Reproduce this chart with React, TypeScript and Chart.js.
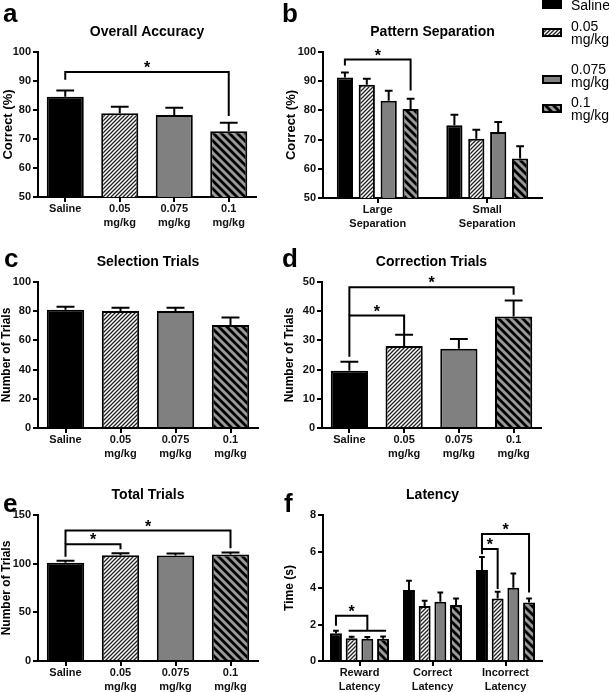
import React, { useEffect, useRef } from 'react';
import { Chart, registerables } from 'chart.js';

Chart.register(...registerables);

const FONT = "'Liberation Sans', Arial, Helvetica, sans-serif";

// ---------------- data ----------------
const doseNames = ['Saline', '0.05 mg/kg', '0.075 mg/kg', '0.1 mg/kg'];
const doseTicks: any[] = ['Saline', ['0.05', 'mg/kg'], ['0.075', 'mg/kg'], ['0.1', 'mg/kg']];
const separationTicks: any[] = [['Large', 'Separation'], ['Small', 'Separation']];
const latencyTicks: any[] = [['Reward', 'Latency'], ['Correct', 'Latency'], ['Incorrect', 'Latency']];

const accuracyMean = [84.6, 78.9, 78.3, 72.7];
const accuracySem = [2.1, 2.2, 2.5, 2.9];

const sepSaline = [91.3, 74.9];
const sepSalineSem = [1.7, 3.6];
const sep005 = [88.8, 70.3];
const sep005Sem = [2.0, 3.1];
const sep0075 = [83.3, 72.6];
const sep0075Sem = [3.4, 3.4];
const sep01 = [80.5, 63.5];
const sep01Sem = [3.5, 4.2];

const selectionMean = [81.0, 80.2, 80.2, 70.6];
const selectionSem = [2.0, 2.1, 2.1, 5.0];

const correctionMean = [19.6, 28.1, 27.1, 38.2];
const correctionSem = [3.1, 3.8, 3.4, 5.5];

const totalMean = [100.9, 108.7, 108.5, 109.5];
const totalSem = [2.1, 1.9, 1.9, 2.1];

const latSaline = [1.52, 3.89, 4.99];
const latSalineSem = [0.14, 0.51, 0.71];
const lat005 = [1.24, 3.01, 3.43];
const lat005Sem = [0.09, 0.29, 0.37];
const lat0075 = [1.22, 3.25, 4.02];
const lat0075Sem = [0.1, 0.51, 0.78];
const lat01 = [1.22, 3.07, 3.2];
const lat01Sem = [0.12, 0.36, 0.23];

// axis ranges: [min, max, step]
const accuracyAxis = [50, 100, 10];
const selectionAxis = [0, 100, 20];
const correctionAxis = [0, 50, 10];
const totalAxis = [0, 150, 50];
const latencyAxis = [0, 8, 2];

// significance brackets: a/b = [datasetIndex, dataIndex]
const accuracyBrackets = [{ a: [0, 0], b: [0, 3], y: 93.1, dropA: 90.4, dropB: 77.9 }];
const separationBrackets = [{ a: [0, 0], b: [3, 0], y: 97.4, dropA: 95.4, dropB: 86.8 }];
const correctionBrackets = [
  { a: [0, 0], b: [0, 3], y: 48.2, dropA: 38.5, dropB: 45.6 },
  { a: [0, 0], b: [0, 1], y: 38.5, dropA: 24.4, dropB: 31.9 },
];
const totalBrackets = [
  { a: [0, 0], b: [0, 3], y: 134, dropA: 120, dropB: 115.8 },
  { a: [0, 0], b: [0, 1], y: 120, dropA: 107.1, dropB: 114.7 },
];
const latencyBrackets = [
  { a: [0, 0], b: [2, 0], y: 2.48, dropA: 1.93, dropB: 1.66, under: { from: [1, 0], to: [3, 0] } },
  { a: [0, 2], b: [3, 2], y: 6.96, dropA: 6.14, dropB: 3.76 },
  { a: [0, 2], b: [1, 2], y: 6.14, dropA: 5.85, dropB: 3.95 },
];

// ---------------- fills ----------------
function hatch(size: number, bg: string, fg: string, lw: number, dir: string) {
  const c = document.createElement('canvas');
  c.width = size;
  c.height = size;
  const x = c.getContext('2d') as CanvasRenderingContext2D;
  x.fillStyle = bg;
  x.fillRect(0, 0, size, size);
  x.strokeStyle = fg;
  x.lineWidth = lw;
  x.beginPath();
  for (const o of [-size, 0, size]) {
    if (dir === '/') {
      x.moveTo(o - 1, size + 1);
      x.lineTo(o + size + 1, -1);
    } else {
      x.moveTo(o - 1, -1);
      x.lineTo(o + size + 1, size + 1);
    }
  }
  x.stroke();
  return x.createPattern(c, 'repeat') as CanvasPattern;
}

let FILLS: any[] | null = null;
function fills() {
  if (!FILLS) {
    FILLS = ['#000000', hatch(4, '#ffffff', '#222222', 1.3, '/'), '#808080', hatch(8, '#999999', '#000000', 2.8, '\\')];
  }
  return FILLS;
}

// ---------------- panels ----------------
type PanelCfg = {
  box: number[]; // left, top, w, h (page)
  area: number[]; // L, T, R, B (page)
  labels: any[];
  series: { name: string; data: number[]; sem: number[]; fillIdx: number | null }[];
  axis: number[];
  cat: number;
  bar: number;
  title: string;
  letter: string;
  letterPos: number[];
  yTitle: string;
  yTitleX: number;
  yTitleSize: number;
  brackets: any[];
  legend?: boolean;
};

const panels: PanelCfg[] = [
  {
    box: [0, 0, 290, 242], area: [38, 52, 256, 197], labels: doseTicks,
    series: [{ name: 'Overall Accuracy', data: accuracyMean, sem: accuracySem, fillIdx: null }],
    axis: accuracyAxis, cat: 1, bar: 0.68, title: 'Overall Accuracy', letter: 'a', letterPos: [3, 22],
    yTitle: 'Correct (%)', yTitleX: 8, yTitleSize: 13, brackets: accuracyBrackets,
  },
  {
    box: [280, 0, 329, 242], area: [323, 52, 542, 198], labels: separationTicks,
    series: [
      { name: doseNames[0], data: sepSaline, sem: sepSalineSem, fillIdx: 0 },
      { name: doseNames[1], data: sep005, sem: sep005Sem, fillIdx: 1 },
      { name: doseNames[2], data: sep0075, sem: sep0075Sem, fillIdx: 2 },
      { name: doseNames[3], data: sep01, sem: sep01Sem, fillIdx: 3 },
    ],
    axis: accuracyAxis, cat: 0.8, bar: 0.74, title: 'Pattern Separation', letter: 'b', letterPos: [282, 22],
    yTitle: 'Correct (%)', yTitleX: 291, yTitleSize: 13, brackets: separationBrackets, legend: true,
  },
  {
    box: [0, 236, 290, 236], area: [38, 282, 258, 428], labels: doseTicks,
    series: [{ name: 'Selection Trials', data: selectionMean, sem: selectionSem, fillIdx: null }],
    axis: selectionAxis, cat: 1, bar: 0.68, title: 'Selection Trials', letter: 'c', letterPos: [4, 267],
    yTitle: 'Number of Trials', yTitleX: 7, yTitleSize: 12, brackets: [],
  },
  {
    box: [280, 236, 329, 236], area: [322, 282, 541, 428], labels: doseTicks,
    series: [{ name: 'Correction Trials', data: correctionMean, sem: correctionSem, fillIdx: null }],
    axis: correctionAxis, cat: 1, bar: 0.68, title: 'Correction Trials', letter: 'd', letterPos: [282, 267],
    yTitle: 'Number of Trials', yTitleX: 290, yTitleSize: 12, brackets: correctionBrackets,
  },
  {
    box: [0, 466, 290, 226], area: [38, 515, 258, 661], labels: doseTicks,
    series: [{ name: 'Total Trials', data: totalMean, sem: totalSem, fillIdx: null }],
    axis: totalAxis, cat: 1, bar: 0.68, title: 'Total Trials', letter: 'e', letterPos: [3, 512],
    yTitle: 'Number of Trials', yTitleX: 7, yTitleSize: 12, brackets: totalBrackets,
  },
  {
    box: [280, 466, 329, 226], area: [323, 515, 542, 661], labels: latencyTicks,
    series: [
      { name: doseNames[0], data: latSaline, sem: latSalineSem, fillIdx: 0 },
      { name: doseNames[1], data: lat005, sem: lat005Sem, fillIdx: 1 },
      { name: doseNames[2], data: lat0075, sem: lat0075Sem, fillIdx: 2 },
      { name: doseNames[3], data: lat01, sem: lat01Sem, fillIdx: 3 },
    ],
    axis: latencyAxis, cat: 0.86, bar: 0.76, title: 'Latency', letter: 'f', letterPos: [284, 512],
    yTitle: 'Time (s)', yTitleX: 290, yTitleSize: 12, brackets: latencyBrackets,
  },
];

function makeDecor(cfg: PanelCfg) {
  const ox = cfg.box[0];
  const oy = cfg.box[1];
  return {
    id: 'decor',
    afterDatasetsDraw(chart: any) {
      const ctx = chart.ctx as CanvasRenderingContext2D;
      const ys = chart.scales.y;
      ctx.save();
      ctx.strokeStyle = '#000';
      ctx.lineWidth = 2;
      cfg.series.forEach((s, di) => {
        const meta = chart.getDatasetMeta(di);
        meta.data.forEach((bar: any, i: number) => {
          const top = ys.getPixelForValue(s.data[i] + s.sem[i]);
          const cw = bar.width * 0.48;
          ctx.beginPath();
          ctx.moveTo(bar.x, bar.y);
          ctx.lineTo(bar.x, top);
          ctx.moveTo(bar.x - cw / 2, top);
          ctx.lineTo(bar.x + cw / 2, top);
          ctx.stroke();
        });
      });
      ctx.restore();
    },
    afterDraw(chart: any) {
      const ctx = chart.ctx as CanvasRenderingContext2D;
      const ca = chart.chartArea;
      const ys = chart.scales.y;
      ctx.save();
      ctx.fillStyle = '#000';
      // title
      ctx.font = `bold 14px ${FONT}`;
      ctx.textAlign = 'center';
      ctx.textBaseline = 'alphabetic';
      ctx.fillText(cfg.title, (ca.left + ca.right) / 2, ca.top - 16.5);
      // letter
      ctx.font = `bold 26px ${FONT}`;
      ctx.textAlign = 'left';
      ctx.fillText(cfg.letter, cfg.letterPos[0] - ox, cfg.letterPos[1] - oy);
      // y title
      ctx.save();
      ctx.translate(cfg.yTitleX - ox, (ca.top + ca.bottom) / 2);
      ctx.rotate(-Math.PI / 2);
      ctx.font = `bold ${cfg.yTitleSize}px ${FONT}`;
      ctx.textAlign = 'center';
      ctx.textBaseline = 'middle';
      ctx.fillText(cfg.yTitle, 0, 0);
      ctx.restore();
      // brackets
      const px = (p: number[]) => chart.getDatasetMeta(p[0]).data[p[1]].x;
      ctx.strokeStyle = '#000';
      ctx.lineWidth = 2;
      ctx.lineJoin = 'miter';
      cfg.brackets.forEach((b: any) => {
        const xa = px(b.a);
        const xb = px(b.b);
        const y = ys.getPixelForValue(b.y);
        ctx.beginPath();
        ctx.moveTo(xa, ys.getPixelForValue(b.dropA));
        ctx.lineTo(xa, y);
        ctx.lineTo(xb, y);
        ctx.lineTo(xb, ys.getPixelForValue(b.dropB));
        if (b.under) {
          const yu = ys.getPixelForValue(b.dropB);
          ctx.moveTo(px(b.under.from) - 3, yu);
          ctx.lineTo(px(b.under.to) + 3, yu);
        }
        ctx.stroke();
        ctx.font = `bold 16px ${FONT}`;
        ctx.textAlign = 'center';
        ctx.textBaseline = 'alphabetic';
        ctx.fillText('*', (xa + xb) / 2, y + 1);
      });
      // legend
      if (cfg.legend) {
        const F = fills();
        const boxTops = [0, 28, 75, 104];
        const lines = [
          [['Saline', 10]],
          [['0.05', 31], ['mg/kg', 44]],
          [['0.075', 74], ['mg/kg', 87]],
          [['0.1', 107], ['mg/kg', 120]],
        ];
        for (let i = 0; i < 4; i++) {
          const bx = 542 - ox;
          const by = boxTops[i] - oy;
          ctx.fillStyle = F[i];
          ctx.fillRect(bx + 1, by + 1, 18, 7);
          ctx.lineWidth = 2;
          ctx.strokeStyle = '#000';
          ctx.strokeRect(bx + 1, by + 1, 18, 7);
          ctx.fillStyle = '#000';
          ctx.font = `14px ${FONT}`;
          ctx.textAlign = 'left';
          ctx.textBaseline = 'alphabetic';
          (lines[i] as any[]).forEach(([t, yy]) => ctx.fillText(t, 571 - ox, yy - oy));
        }
      }
      ctx.restore();
    },
  };
}

function buildConfig(cfg: PanelCfg): any {
  const F = fills();
  const [L, T, R, B] = cfg.area;
  const [left, top, w, h] = cfg.box;
  const yw = L - left;
  const xh = top + h - B;
  const tickFont = { family: FONT, size: 11, weight: 'bold', lineHeight: 1.27 };
  return {
    type: 'bar',
    data: {
      labels: cfg.labels,
      datasets: cfg.series.map((s) => ({
        label: s.name,
        data: s.data,
        backgroundColor: s.fillIdx === null ? F : F[s.fillIdx],
        borderColor: '#000',
        borderWidth: 2,
        categoryPercentage: cfg.cat,
        barPercentage: cfg.bar,
      })),
    },
    options: {
      animation: false,
      responsive: false,
      devicePixelRatio: 1,
      events: [],
      layout: { padding: { left: 0, top: T - top, right: left + w - R, bottom: 0 } },
      plugins: { legend: { display: false }, tooltip: { enabled: false }, title: { display: false } },
      scales: {
        x: {
          type: 'category',
          offset: true,
          z: 1,
          grid: { display: true, drawOnChartArea: false, offset: false, tickLength: 5, color: '#000', lineWidth: 2 },
          border: { display: true, color: '#000', width: 2 },
          ticks: { color: '#111', font: tickFont, maxRotation: 0, minRotation: 0, autoSkip: false, padding: 0 },
          afterFit: (s: any) => { s.height = xh; },
        },
        y: {
          type: 'linear',
          min: cfg.axis[0],
          max: cfg.axis[1],
          z: 1,
          grid: { display: true, drawOnChartArea: false, tickLength: 5, color: '#000', lineWidth: 2 },
          border: { display: true, color: '#000', width: 2 },
          ticks: { stepSize: cfg.axis[2], color: '#111', font: tickFont, padding: 2 },
          afterFit: (s: any) => { s.width = yw; },
        },
      },
    },
    plugins: [makeDecor(cfg)],
  };
}

function Panel({ cfg }: { cfg: PanelCfg }) {
  const ref = useRef<HTMLCanvasElement | null>(null);
  useEffect(() => {
    const chart = new Chart(ref.current as HTMLCanvasElement, buildConfig(cfg));
    return () => chart.destroy();
  }, [cfg]);
  const [left, top, w, h] = cfg.box;
  return (
    <canvas
      ref={ref}
      width={w}
      height={h}
      style={{ position: 'absolute', left, top, width: w, height: h }}
    />
  );
}

export default function App() {
  return (
    <div style={{ position: 'absolute', left: 0, top: 0, width: 609, height: 692, background: '#fff', overflow: 'hidden' }}>
      {panels.map((p, i) => (
        <Panel key={i} cfg={p} />
      ))}
    </div>
  );
}
